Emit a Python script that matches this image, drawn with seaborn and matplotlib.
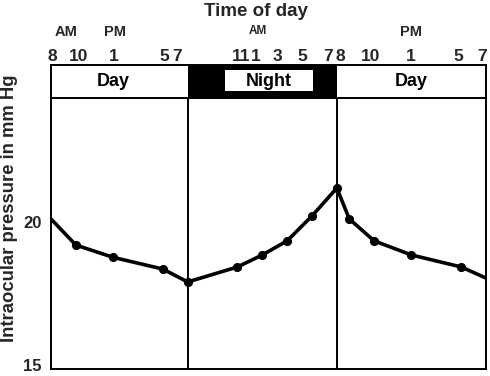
import matplotlib
matplotlib.use("Agg")
import matplotlib.pyplot as plt
import matplotlib.transforms as mtransforms
from matplotlib.patches import Rectangle
import seaborn as sns
import pandas as pd

# ---- data (hours counted from 8 AM of the first day) ----
hours = [0, 2, 5, 9, 11, 15, 17, 19, 21, 23, 24, 26, 29, 33, 35]
pressure = [20.0, 19.13, 18.72, 18.33, 17.9, 18.4, 18.8, 19.27, 20.1, 21.03,
            20.0, 19.27, 18.8, 18.4, 18.03]
tick_hours = [0, 2, 5, 9, 11, 15, 17, 19, 21, 23, 24, 26, 29, 33, 35]
tick_labels = ["8", "10", "1", "5", "7", "11", "1", "3", "5", "7",
               "8", "10", "1", "5", "7"]
period_labels = ["Day", "Night", "Day"]
period_bounds = [0, 11, 23, 35]
ampm_labels = ["AM", "PM", "AM", "PM"]
ytick_values = [15, 20]
ytick_labels = ["15", "20"]
title = "Time of day"
ylabel = "Intraocular pressure in mm Hg"

df = pd.DataFrame({"hour": hours, "pressure": pressure})

sns.set_theme(style="white")
plt.rcParams["font.family"] = ["Liberation Sans", "DejaVu Sans"]

W, H = 490, 376
fig = plt.figure(figsize=(W / 100, H / 100), dpi=100)
ax = fig.add_axes([51 / W, 7 / H, 435 / W, 271 / H])
axb = fig.add_axes([51 / W, (H - 98) / H, 435 / W, 33 / H], sharex=ax)

# main curve
sns.lineplot(data=df, x="hour", y="pressure", ax=ax, color="black",
             linewidth=2.6, marker="o", markersize=5.8,
             markeredgecolor="black", markevery=slice(1, -1))

ax.set_xlim(period_bounds[0], period_bounds[-1])
ax.set_ylim(15, 24.03)
for b in period_bounds[1:-1]:
    ax.axvline(b, color="black", linewidth=1.4)
ax.set_yticks(ytick_values)
ax.set_yticklabels(ytick_labels, fontsize=12, fontweight="bold")
ax.tick_params(axis="y", length=0, pad=7)
ax.tick_params(axis="x", bottom=False, labelbottom=False, length=0)
ax.set_xlabel("")
ax.set_ylabel("")
for sp in ax.spines.values():
    sp.set_color("black")
    sp.set_linewidth(1.4)
ylabel_dy = [4, -3]
for lab, dy in zip(ax.yaxis.get_majorticklabels(), ylabel_dy):
    lab.set_transform(lab.get_transform() +
                      mtransforms.ScaledTranslation(0, dy / 100, fig.dpi_scale_trans))

# day / night band
axb.set_ylim(0, 1)
axb.set_yticks([])
axb.axvspan(period_bounds[1], period_bounds[2], color="black", linewidth=0)
btrans = mtransforms.blended_transform_factory(axb.transData, axb.transAxes)
axb.add_patch(Rectangle((14.0, 0.21), 7.08, 0.64, transform=btrans,
                        facecolor="white", edgecolor="none"))
text_x = [5, 17.5, 29]
for lab, tx in zip(period_labels, text_x):
    axb.text(tx, 0.5, lab, transform=btrans, ha="center", va="center",
             fontsize=13, fontweight="bold", color="black")
for sp in axb.spines.values():
    sp.set_color("black")
    sp.set_linewidth(1.4)

axb.xaxis.tick_top()
axb.set_xticks(tick_hours)
axb.set_xticklabels(tick_labels, fontsize=12.5, fontweight="bold")
axb.tick_params(axis="x", top=True, labeltop=True, bottom=False,
                labelbottom=False, length=0, pad=1)
label_dx = [1, 3, 1, 1, -11, 4, -7, -10, -10, -9, -9, -4, -1, -3, -4]
for lab, dx in zip(axb.xaxis.get_majorticklabels(), label_dx):
    lab.set_transform(lab.get_transform() +
                      mtransforms.ScaledTranslation(dx / 100, 0, fig.dpi_scale_trans))

# AM / PM markers
ampm_x = [1.2, 5.15, 16.65, 29.0]
ampm_size = [10.5, 10.5, 8.5, 10.5]
for lab, xx, fs in zip(ampm_labels, ampm_x, ampm_size):
    axb.annotate(lab, xy=(xx, H - 31.5), xycoords=("data", "figure pixels"),
                 ha="center", va="center", fontsize=fs, fontweight="bold")

fig.text(256 / W, 1 - 11 / H, title, ha="center", va="center",
         fontsize=13.5, fontweight="bold")
fig.text(10 / W, 1 - 208 / H, ylabel, rotation=90, ha="center", va="center",
         fontsize=13.3, fontweight="bold")

fig.savefig("out.png", dpi=100)
